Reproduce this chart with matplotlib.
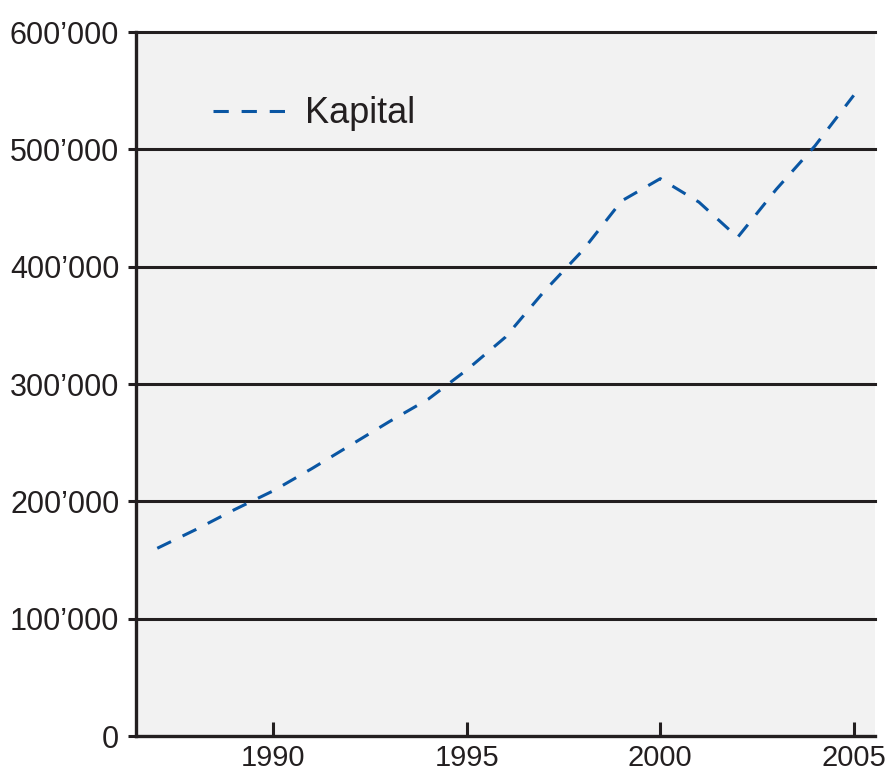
import matplotlib
matplotlib.use("Agg")
import matplotlib.pyplot as plt
from matplotlib.ticker import FuncFormatter

years = [1987, 1988, 1989, 1990, 1991, 1992, 1993, 1994, 1995, 1996,
         1997, 1998, 1999, 2000, 2001, 2002, 2003, 2004, 2005]
kapital = [160000, 176000, 193000, 209000, 228000, 248000, 268000, 287000, 312000, 340000,
           379000, 414000, 456000, 475000, 455000, 425000, 466000, 503000, 546000]
series_label = "Kapital"
x_ticks = [1990, 1995, 2000, 2005]
y_ticks = [0, 100000, 200000, 300000, 400000, 500000, 600000]

plt.rcParams["font.family"] = ["Liberation Sans", "DejaVu Sans"]

W, H = 891, 778
fig = plt.figure(figsize=(W / 100, H / 100), dpi=100)
fig.patch.set_facecolor("white")
ax = fig.add_axes([136 / W, 1 - 736 / H, (875 - 136) / W, (736 - 32) / H])
ax.set_facecolor("#f2f2f2")

ink = "#231f20"
blue = "#0a56a3"

ax.plot(years, kapital, color=blue, lw=2.2, dashes=(5, 4.2), label=series_label,
        dash_capstyle="butt", zorder=3)

ax.set_xlim(1986.45, 2005.55)
ax.set_ylim(0, 600000)
ax.set_xticks(x_ticks)
ax.set_yticks(y_ticks)


def fmt(v, pos):
    v = int(round(v))
    if v == 0:
        return "0"
    return f"{v // 1000}\u2019{v % 1000:03d}"


ax.yaxis.set_major_formatter(FuncFormatter(fmt))

for y in y_ticks[1:]:
    ax.axhline(y, color=ink, lw=2.2, zorder=1, clip_on=False)

for s in ["top", "right"]:
    ax.spines[s].set_visible(False)
for s in ["left", "bottom"]:
    ax.spines[s].set_color(ink)
    ax.spines[s].set_linewidth(2.4)

ax.tick_params(axis="x", direction="in", length=10, width=2.2, color=ink,
               labelsize=21, labelcolor=ink, pad=6)
ax.tick_params(axis="y", direction="out", length=6, width=2.2, color=ink,
               labelsize=22, labelcolor=ink, pad=6)

ax.legend(loc="upper left", bbox_to_anchor=(0.06, 0.955), frameon=False,
          fontsize=26, handlelength=2.0, handletextpad=0.55,
          labelcolor=ink)

fig.savefig("out.png", dpi=100, facecolor="white")
